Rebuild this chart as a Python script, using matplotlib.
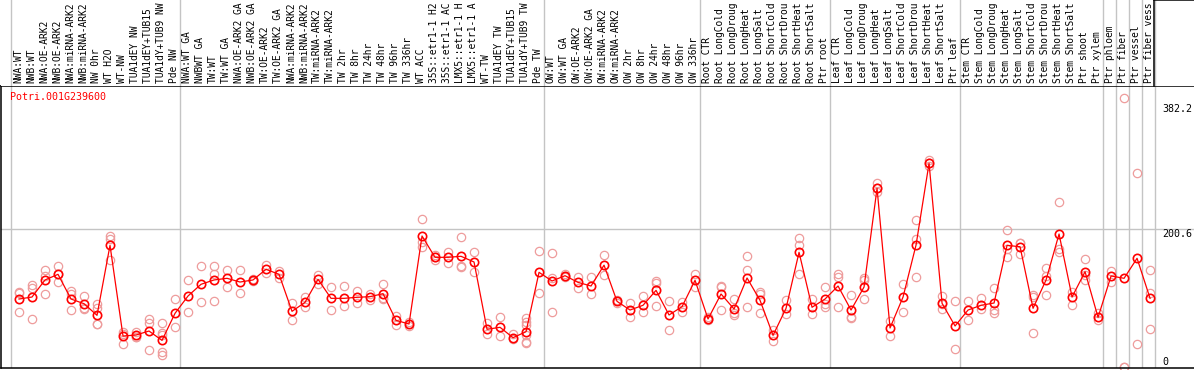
import numpy as np
import matplotlib
matplotlib.use('Agg')
import matplotlib.pyplot as plt
import matplotlib.transforms as mtransforms

# sample labels (one column each)
labels = [
    'NWA:WT', 'NWB:WT', 'NWA:OE-ARK2', 'NWB:OE-ARK2', 'NWA:miRNA-ARK2', 'NWB:miRNA-ARK2',
    'NW 0hr', 'WT H2O', 'WT-NW', 'TUA1dEY NW', 'TUA1dEY+TUB15 NW', 'TUA1dY+TUB9 NW', 'Pde NW',
    'NWA:WT GA', 'NWBWT GA', 'TW:WT', 'TW:WT GA', 'NWA:OE-ARK2 GA', 'NWB:OE-ARK2 GA',
    'TW:OE-ARK2', 'TW:OE-ARK2 GA', 'NWA:miRNA-ARK2', 'NWB:miRNA-ARK2', 'TW:miRNA-ARK2',
    'TW:miRNA-ARK2', 'TW 2hr', 'TW 8hr', 'TW 24hr', 'TW 48hr', 'TW 96hr', 'TW 336hr',
    'WT ACC', '35S::etr1-1 H2O', '35S::etr1-1 ACC', 'LMX5::etr1-1 H2O', 'LMX5::etr1-1 ACC',
    'WT-TW', 'TUA1dEY TW', 'TUA1dEY+TUB15 TW', 'TUA1dY+TUB9 TW', 'Pde TW',
    'OW:WT', 'OW:WT GA', 'OW:OE-ARK2', 'OW:OE-ARK2 GA', 'OW:miRNA-ARK2', 'OW:miRNA-ARK2',
    'OW 2hr', 'OW 8hr', 'OW 24hr', 'OW 48hr', 'OW 96hr', 'OW 336hr',
    'Root CTR', 'Root LongCold', 'Root LongDrought', 'Root LongHeat', 'Root LongSalt',
    'Root ShortCold', 'Root ShortDrought', 'Root ShortHeat', 'Root ShortSalt', 'Ptr root',
    'Leaf CTR', 'Leaf LongCold', 'Leaf LongDrought', 'Leaf LongHeat', 'Leaf LongSalt',
    'Leaf ShortCold', 'Leaf ShortDrought', 'Leaf ShortHeat', 'Leaf ShortSalt', 'Ptr leaf',
    'Stem CTR', 'Stem LongCold', 'Stem LongDrought', 'Stem LongHeat', 'Stem LongSalt',
    'Stem ShortCold', 'Stem ShortDrought', 'Stem ShortHeat', 'Stem ShortSalt', 'Ptr shoot',
    'Ptr xylem', 'Ptr phloem', 'Ptr fiber', 'Ptr vessel', 'Ptr fiber vessel',
]

# mean expression per sample (the connected red line)
means = [
    98.8, 101.7, 126.5, 134.7, 98.8, 92.0, 75.1, 176.8, 45.0, 46.5, 52.3, 38.7, 78.0,
    103.2, 120.2, 126.5, 128.9, 123.5, 126.5, 142.0, 134.7, 80.9, 94.0, 127.4, 99.8,
    99.8, 101.3, 102.2, 106.6, 67.8, 62.5, 190.4, 159.4, 159.4, 160.9, 152.6, 54.8,
    57.7, 42.6, 51.3, 137.6,
    125.0, 132.7, 123.0, 117.7, 148.0, 95.4, 82.8, 89.7, 111.4, 75.6, 87.7, 126.0,
    69.8, 106.1, 84.3, 129.4, 96.9, 46.0, 85.3, 166.7, 86.8, 98.8,
    117.7, 82.8, 116.3, 259.7, 56.7, 101.7, 177.3, 296.1, 92.6, 59.6,
    82.8, 89.7, 93.0, 176.8, 174.8, 85.3, 126.5, 193.3, 101.7, 138.5, 72.2,
    132.3, 128.9, 158.0, 99.8,
]

# individual replicates
reps = [
    [109.5, 107, 79.5], [119, 114.3, 69.3], [141, 132, 105.6], [146.3, 134.7, 123.5],
    [110.5, 105.6, 82.8], [103.6, 86.2, 84.8], [92, 86, 63, 62], [190.4, 186.5, 155],
    [51.3, 48, 33.4], [51.3, 44, 43], [69.3, 64.4, 24.2], [63.5, 49, 46, 22.3, 17.4],
    [98.4, 58.1],
    [126, 79.5], [146.8, 94], [146.8, 134.7, 95.9], [141, 116.3], [141, 107],
    [128, 125, 126], [148.3, 136.2], [139.5, 128.9], [93.6, 68.3], [102.2, 86.8],
    [133.7, 120.6], [115.8, 82.8], [117.7, 88.7], [110.5, 92.6], [106, 97.4],
    [120.2, 100, 98.4], [74.1, 60.6], [64.9, 60], [214.7, 182, 174], [163, 160, 155],
    [167.2, 150.7], [188.5, 146.3, 144.9], [167.2, 137.6], [63.5, 47.5], [73.1, 45.5],
    [48, 40.7], [70.7, 65.8, 61, 46.5, 36.8, 34.4], [168.6, 107],
    [165.3, 130, 79.5], [135, 131, 132], [130.3, 114.3], [130.3, 105.6], [162.4, 133.3],
    [97, 93], [93.5, 72.2], [103.2, 80], [125.5, 121.6, 88.7], [95.9, 53.8],
    [94.9, 79.5], [135.2, 116.7],
    [72, 70, 68], [118.2, 116, 82.8], [98.8, 78, 75.6], [160.9, 140.5, 86.8],
    [109.4, 106, 78], [53.8, 38.3], [96.9, 76.6], [187.9, 176.8, 134.7], [98.4, 77],
    [115.8, 92, 87.7],
    [134.7, 130.6, 87.7], [104.6, 73, 70.7], [128.9, 126.5, 98.4], [267, 260, 254.8],
    [66.9, 45], [120.6, 79.5], [213.7, 186, 131.2], [300.8, 296, 292], [103.2, 92, 83.8],
    [95.9, 26.6],
    [95.9, 68.3], [99.8, 83.8], [114.3, 82.8, 78], [199.1, 171, 160.3], [180.7, 180, 163.8],
    [104.6, 102, 49], [143.5, 132, 104.6], [239.7, 172, 167.2], [109.4, 90.1],
    [156.5, 133, 126.5], [78, 68.3],
    [139.5, 124], [390.5, 0, 0], [282.4, 33.4], [140.5, 107, 55.2],
]

# group separators (between column indices)
group_edges = [-0.5, 12.5, 40.5, 52.5, 62.5, 72.5, 83.5, 84.5, 85.5, 86.5, 87.5]
ytick_vals = [382.2, 200.6, 0]
ytick_text = ['382.2', '200.6', '0']
title = 'Potri.001G239600'
max_label_chars = 14   # the strip only has room for this many characters

W, H = 1194, 370
MONO = 'DejaVu Sans Mono'
FS = 7.2
GRID = '#c4c4c4'
PINK = '#ee9c9c'

fig = plt.figure(figsize=(W / 100, H / 100), dpi=100)
ax = fig.add_axes([1 / W, 2 / H, 1 - 1 / W, 282 / H])
lab = fig.add_axes([1 / W, 284 / H, 1 - 1 / W, 86 / H])

x = np.arange(len(labels))
xlim = (-1.385, 90.38)
ax.set_xlim(*xlim)
lab.set_xlim(*xlim)
ax.set_ylim(-1.45, 408.4)
lab.set_ylim(0, 1)

edge_shift = -0.12
for e in group_edges:
    ax.axvline(e + edge_shift, color=GRID, lw=1.0, zorder=1)
    lab.axvline(e + edge_shift, color=GRID, lw=1.0, zorder=1)
ax.axhline(200.6, color=GRID, lw=1.0, zorder=1)

# replicates
for i, r in enumerate(reps):
    ax.plot([i] * len(r), r, ls='none', marker='o', ms=6, mfc='none',
            mec=PINK, mew=0.9, zorder=2, clip_on=False)

# means
ax.plot(x, means, color='red', lw=0.9, marker='o', ms=6, mfc='none',
        mec='red', mew=1.2, zorder=3)

# value labels on the right
ytrans = mtransforms.blended_transform_factory(ax.transAxes, ax.transData)
for v, t in zip(ytick_vals, ytick_text):
    ax.text(1162 / W, v, t, transform=ytrans, fontsize=FS, family=MONO,
            color='black', va='bottom' if v == 0 else 'top', ha='left')

ax.text(9 / W, 1 - 11 / 282, title, transform=ax.transAxes, fontsize=FS,
        family=MONO, color='red', va='center', ha='left')

ax.set_xticks([])
ax.set_yticks([])
for s in ['left', 'bottom', 'top']:
    ax.spines[s].set_color('black')
    ax.spines[s].set_linewidth(1.1)
ax.spines['right'].set_visible(False)

# rotated sample labels
for i, t in enumerate(labels):
    lab.text(i - 0.08, 0.04, t[:max_label_chars], rotation=90, fontsize=6.9,
             family=MONO, ha='center', va='bottom', color='black')
lab.set_xticks([])
lab.set_yticks([])
for s in lab.spines.values():
    s.set_visible(False)
# small box in the top right corner of the label strip
lab.plot([87.5 + edge_shift - 0.1] * 2, [0, 1], color='black', lw=1.1, clip_on=False)
lab.plot([87.5 + edge_shift - 0.1, xlim[1]], [0.995, 0.995], color='black', lw=1.1,
         clip_on=False)

fig.savefig('out.png', dpi=100)
